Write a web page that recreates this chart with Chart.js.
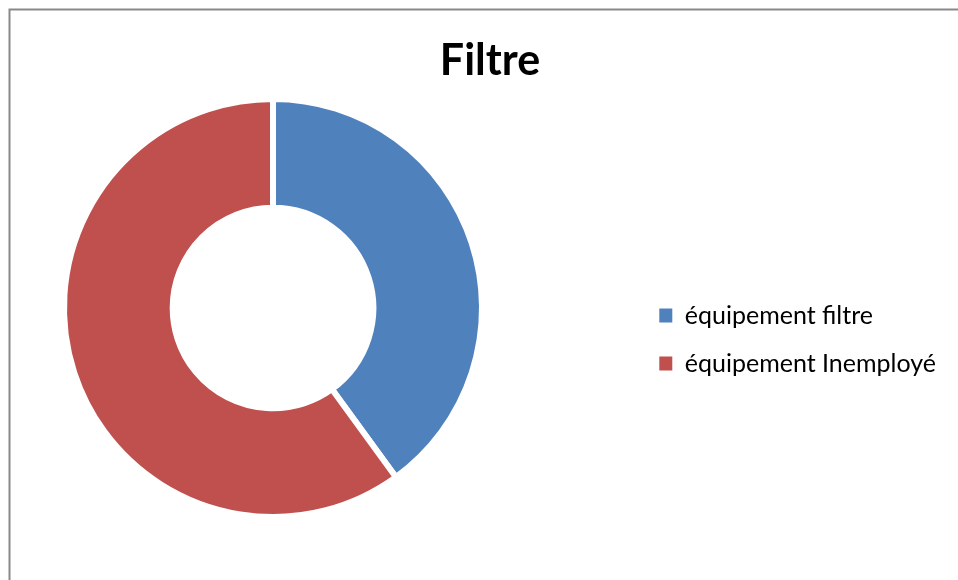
<!DOCTYPE html>
<html>
<head>
<meta charset="utf-8">
<script src="https://cdn.jsdelivr.net/npm/chart.js@4"></script>
<style>
  html, body { margin: 0; padding: 0; background: #ffffff; }
  #wrap { position: relative; width: 958px; height: 580px; }
  canvas { display: block; }
</style>
</head>
<body>
<div id="wrap"><canvas id="c" width="958" height="580"></canvas></div>
<script>
// ---- data ----
const chartTitle = 'Filtre';
const categories = ['équipement filtre', 'équipement Inemployé'];
const values = [40, 60];
const sliceColors = ['#4F81BD', '#C0504D'];

// ---- layout constants ----
const W = 958;
const PAD = { left: 34, right: 12, top: 10, bottom: 60 };
const LEGEND_FONT = { family: 'Lato', size: 25 };
const LEGEND_PAD = 23;
const LEGEND_BOX_W = 13;
const LEGEND_BOX_H = 14;
const PLOT_RIGHT = 512;

// width of the legend box (mirrors Chart.js legend fit) to size a spacer
const mctx = document.createElement('canvas').getContext('2d');
mctx.font = `normal ${LEGEND_FONT.size}px ${LEGEND_FONT.family}`;
const maxTextW = Math.max(...categories.map(t => mctx.measureText(t).width));
const legendW = LEGEND_PAD + LEGEND_BOX_W + LEGEND_FONT.size / 2 + maxTextW + 10;
const spacerW = Math.max(0, W - PAD.right - legendW - PLOT_RIGHT);

const spacerPlugin = {
  id: 'spacer',
  beforeInit(chart) {
    Chart.layouts.addBox(chart, {
      position: 'right',
      weight: 0,
      fullSize: false,
      options: { display: false },
      width: 0, height: 0, left: 0, top: 0, right: 0, bottom: 0,
      isHorizontal() { return false; },
      update(maxW, maxH) { this.width = spacerW; this.height = maxH; },
      draw() {}
    });
  }
};

const framePlugin = {
  id: 'frame',
  beforeDraw(chart) {
    const ctx = chart.ctx;
    ctx.save();
    ctx.strokeStyle = '#898989';
    ctx.lineWidth = 2;
    ctx.strokeRect(9.5, 9.5, 2000, 2000);
    ctx.restore();
  }
};

new Chart(document.getElementById('c'), {
  type: 'doughnut',
  data: {
    labels: categories,
    datasets: [{
      data: values,
      backgroundColor: sliceColors,
      borderColor: '#ffffff',
      borderWidth: 6,
      hoverOffset: 0
    }]
  },
  options: {
    responsive: false,
    animation: false,
    events: [],
    cutout: '48%',
    layout: { padding: PAD },
    plugins: {
      title: {
        display: true,
        text: chartTitle,
        color: '#000000',
        font: { family: 'Lato', size: 43, weight: 'bold' },
        padding: { top: 25, bottom: 9.4 }
      },
      legend: {
        position: 'right',
        align: 'center',
        title: { display: true, text: '', font: { size: 12 }, padding: { top: 134.6, bottom: 0 } },
        labels: {
          color: '#000000',
          font: LEGEND_FONT,
          padding: LEGEND_PAD,
          boxWidth: LEGEND_BOX_W,
          boxHeight: LEGEND_BOX_H,
          generateLabels(chart) {
            const items = Chart.overrides.doughnut.plugins.legend.labels.generateLabels(chart);
            items.forEach(it => { it.lineWidth = 0; it.strokeStyle = 'rgba(0,0,0,0)'; });
            return items;
          }
        }
      },
      tooltip: { enabled: false }
    }
  },
  plugins: [spacerPlugin, framePlugin]
});
</script>
</body>
</html>
